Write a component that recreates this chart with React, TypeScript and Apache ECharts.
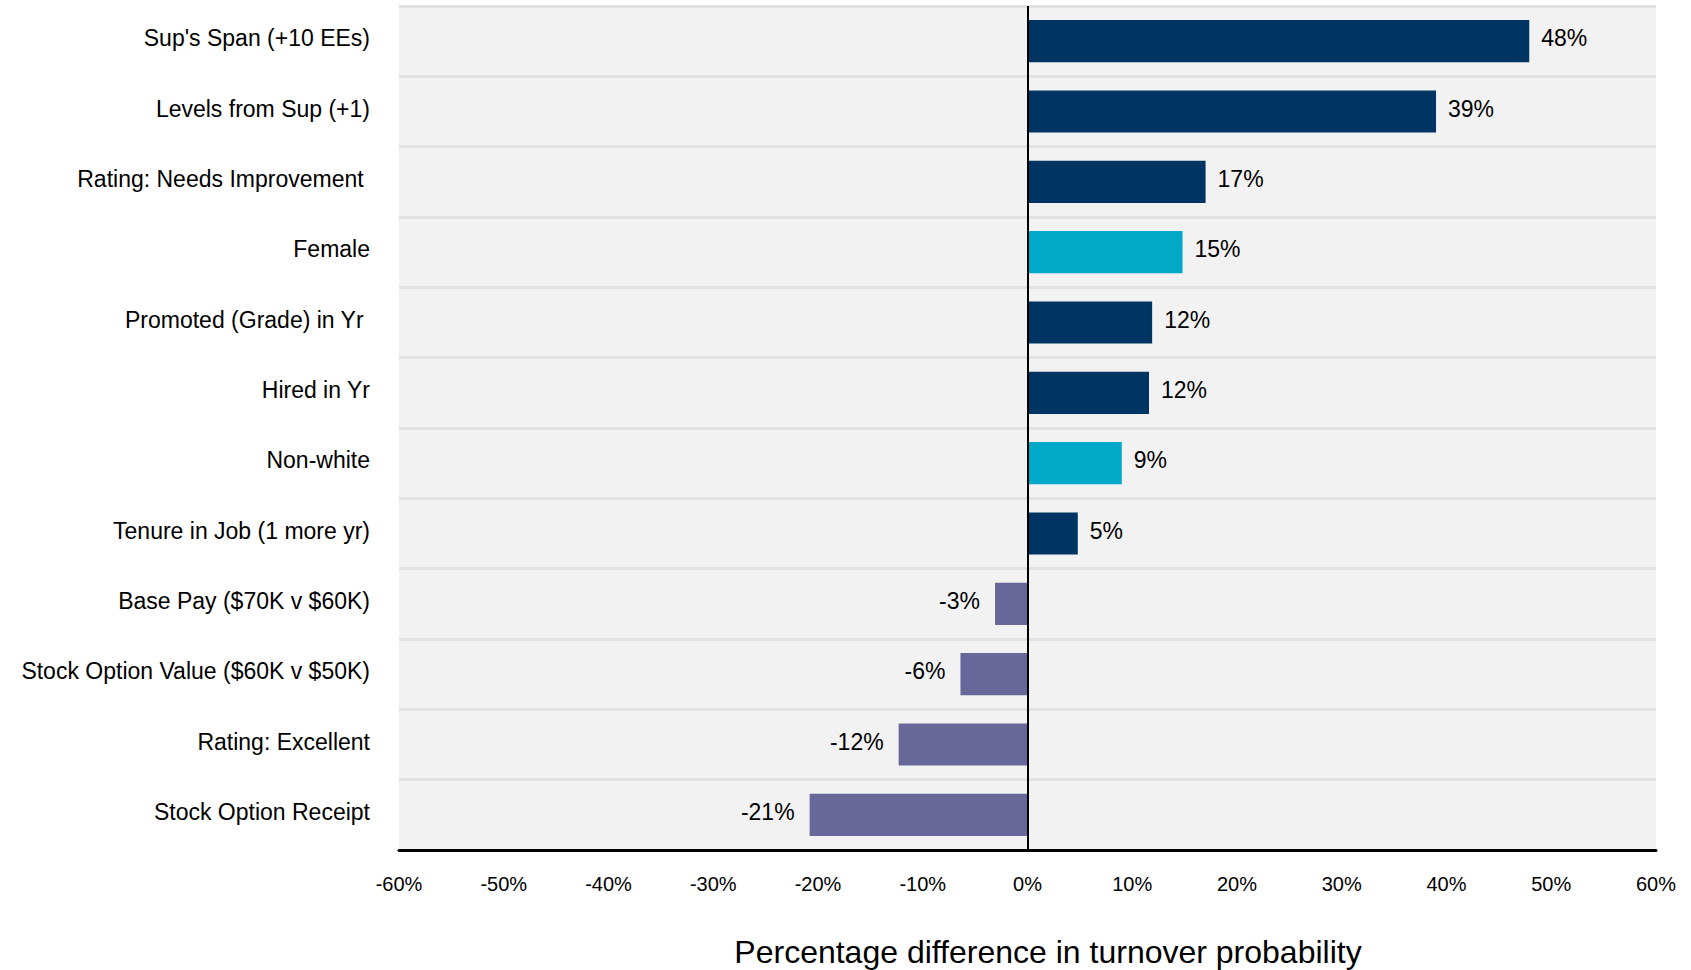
import React, { useEffect, useRef } from "react";
import * as echarts from "echarts";

// Drivers of turnover, top to bottom
const categories = [
  "Sup's Span (+10 EEs)",
  "Levels from Sup (+1)",
  "Rating: Needs Improvement ",
  "Female",
  "Promoted (Grade) in Yr ",
  "Hired in Yr",
  "Non-white",
  "Tenure in Job (1 more yr)",
  "Base Pay ($70K v $60K)",
  "Stock Option Value ($60K v $50K)",
  "Rating: Excellent",
  "Stock Option Receipt",
];

// Percentage difference in turnover probability
const values = [47.9, 39.0, 17.0, 14.8, 11.9, 11.6, 9.0, 4.8, -3.1, -6.4, -12.3, -20.8];

// Kind of driver: organisational / demographic / reduces turnover
const kinds = ["org", "org", "org", "demo", "org", "org", "demo", "org", "neg", "neg", "neg", "neg"];

const axisMin = -60;
const axisMax = 60;
const axisStep = 10;

const axisTitle = "Percentage difference in turnover probability";

const kindColors: Record<string, string> = {
  org: "#003462",
  demo: "#00A9C8",
  neg: "#676899",
};

const FONT = "'Liberation Sans', Arial, Helvetica, sans-serif";

export default function App() {
  const ref = useRef<HTMLDivElement>(null);

  useEffect(() => {
    if (!ref.current) return;
    const chart = echarts.init(ref.current, undefined, { renderer: "svg" });

    const data = values.map((v, i) => ({
      value: v,
      itemStyle: { color: kindColors[kinds[i]] },
      label: {
        position: v < 0 ? "left" : "right",
        distance: v < 0 ? 15 : 12,
      },
    }));

    chart.setOption({
      animation: false,
      backgroundColor: "#ffffff",
      textStyle: { fontFamily: FONT },
      grid: {
        left: 399,
        right: 35,
        top: 6,
        bottom: 120,
        show: true,
        backgroundColor: "#F2F2F2",
        borderWidth: 0,
      },
      xAxis: {
        type: "value",
        min: axisMin,
        max: axisMax,
        interval: axisStep,
        axisLine: { show: true, onZero: false, lineStyle: { color: "#000", width: 3 } },
        axisTick: { show: false },
        splitLine: { show: false },
        axisLabel: {
          formatter: "{value}%",
          fontSize: 20,
          color: "#000",
          fontFamily: FONT,
          margin: 24,
        },
      },
      yAxis: {
        type: "category",
        data: categories,
        inverse: true,
        axisLine: { show: false },
        axisTick: { show: false },
        splitLine: {
          show: true,
          interval: 0,
          lineStyle: { color: "#E2E2E2", width: 3 },
        },
        axisLabel: {
          interval: 0,
          fontSize: 23,
          color: "#000",
          fontFamily: FONT,
          margin: 29,
          verticalAlign: "bottom",
          lineHeight: 6,
        },
      },
      series: [
        {
          type: "bar",
          data,
          barCategoryGap: "40%",
          label: {
            show: true,
            fontSize: 23,
            color: "#000",
            fontFamily: FONT,
            offset: [0, -3],
            formatter: (p: any) => `${Math.round(p.value)}%`,
          },
          markLine: {
            silent: true,
            symbol: "none",
            label: { show: false },
            lineStyle: { color: "#000", width: 2, type: "solid" },
            data: [{ xAxis: 0 }],
          },
        },
      ],
      graphic: [
        {
          type: "text",
          x: 1048,
          y: 952,
          style: {
            text: axisTitle,
            fontSize: 32,
            fontFamily: FONT,
            fill: "#000",
            align: "center",
            verticalAlign: "middle",
          },
        },
      ],
    });

    return () => chart.dispose();
  }, []);

  return (
    <div
      ref={ref}
      style={{ position: "fixed", left: 0, top: 0, width: 1691, height: 970 }}
    />
  );
}
